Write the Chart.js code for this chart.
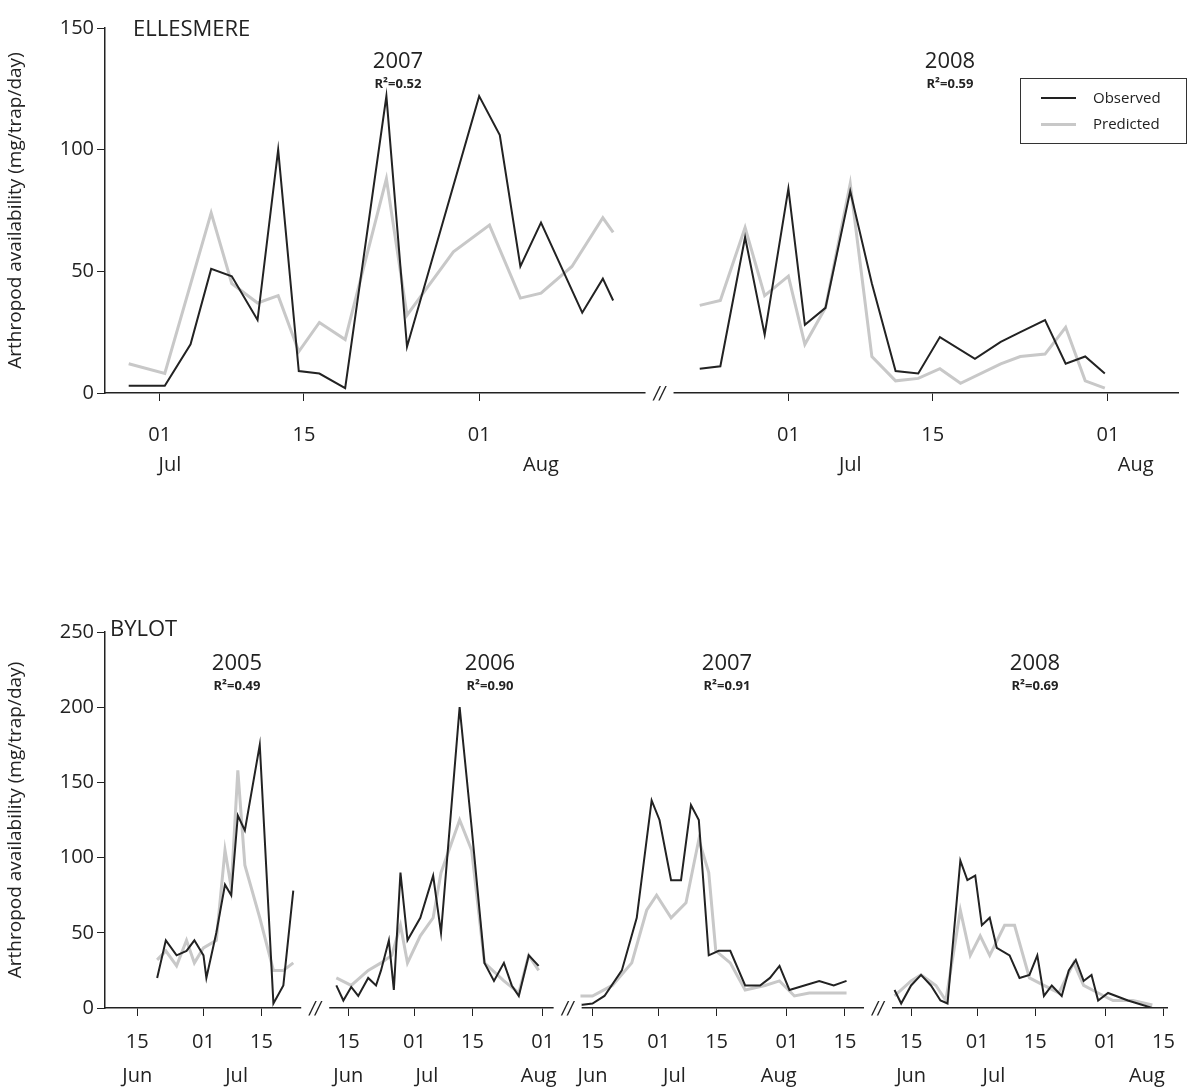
<!DOCTYPE html>
<html><head><meta charset="utf-8">
<script src="https://cdn.jsdelivr.net/npm/chart.js@4.4.1/dist/chart.umd.min.js"></script>
<style>
body{margin:0;background:#fff;font-family:"Open Sans","DejaVu Sans",sans-serif;color:#222;}
#wrap{position:relative;width:1189px;height:1088px;}
canvas{position:absolute;left:0;}
.t{position:absolute;white-space:nowrap;}
.yr{font-size:22px;transform:translateX(-50%);}
.r2{font-size:13px;font-weight:bold;transform:translateX(-50%);}
#legend{position:absolute;left:1020px;top:78px;width:165px;height:64px;border:1px solid #333;font-size:15px;}
</style></head><body>
<div id="wrap">
<canvas id="top" width="1189" height="480" style="top:0"></canvas>
<canvas id="bot" width="1189" height="548" style="top:540px"></canvas>
<div class="t" style="left:133px;top:12px;font-size:22px">ELLESMERE</div>
<div class="t yr" style="left:398px;top:44px">2007</div><div class="t r2" style="left:398px;top:74px">R²=0.52</div>
<div class="t yr" style="left:950px;top:44px">2008</div><div class="t r2" style="left:950px;top:74px">R²=0.59</div>
<div id="legend">
 <div style="position:absolute;left:20px;top:18px;width:35px;border-top:2px solid #222"></div><div class="t" style="left:72px;top:8px">Observed</div>
 <div style="position:absolute;left:20px;top:44px;width:35px;border-top:3px solid #c8c8c8"></div><div class="t" style="left:72px;top:34px">Predicted</div>
</div>
<div class="t" style="left:110px;top:612px;font-size:22px">BYLOT</div>
<div class="t yr" style="left:237px;top:646px">2005</div><div class="t r2" style="left:237px;top:676px">R²=0.49</div>
<div class="t yr" style="left:490px;top:646px">2006</div><div class="t r2" style="left:490px;top:676px">R²=0.90</div>
<div class="t yr" style="left:727px;top:646px">2007</div><div class="t r2" style="left:727px;top:676px">R²=0.91</div>
<div class="t yr" style="left:1035px;top:646px">2008</div><div class="t r2" style="left:1035px;top:676px">R²=0.69</div>
</div>
<script>
// ---- Ellesmere: days since 01 Jul, 2008 shifted by 61
var ellOffsets = [0, 61];
var ell07ObsDays = [-3,0.5,3,5,7,9.5,11.5,13.5,15.5,18,22,24,31,33,35,37,41,43,44];
var ell07Obs     = [3,3,20,51,48,30,100,9,8,2,122,19,122,106,52,70,33,47,38];
var ell07PredDays= [-3,0.5,5,7,9.5,11.5,13.5,15.5,18,22,24,28.5,32,35,37,40,43,44];
var ell07Pred    = [12,8,74,45,37,40,17,29,22,88,32,58,69,39,41,52,72,66];
var ell08ObsDays = [-8.6,-6.6,-4.2,-2.3,0,1.6,3.6,6,8.1,10.4,12.6,14.7,18.1,20.6,22.5,24.9,26.9,28.8,30.7];
var ell08Obs     = [10,11,64,24,84,28,35,83,45,9,8,23,14,21,25,30,12,15,8];
var ell08PredDays= [-8.6,-6.6,-4.2,-2.3,0,1.6,3.6,6,8.1,10.4,12.6,14.7,16.7,20.6,22.5,24.9,26.9,28.8,30.7];
var ell08Pred    = [36,38,68,40,48,20,35,86,15,5,6,10,4,12,15,16,27,5,2];
var ellTickDays  = [0,14,31];
var ellTickNames = ['01','15','01'];
var ellMonths    = [[0,1,'Jul'],[0,37,'Aug'],[1,6,'Jul'],[1,33.7,'Aug']];

// ---- Bylot: days since 01 Jun, per-year shift
var byOffsets = [0, 51, 110, 187];
var by05ObsDays = [18.8,20.9,23.5,25.9,27.8,30,30.7,33.1,35.2,36.7,38.3,40,43.6,46.9,49.3,51.7];
var by05Obs     = [20,45,35,38,45,35,20,50,82,75,128,118,175,3,15,78];
var by05PredDays= [18.8,20.9,23.5,25.9,27.8,30,33.1,35.2,36.7,38.3,40,43.6,46.9,49.3,51.7];
var by05Pred    = [32,38,28,45,30,40,45,105,80,158,95,60,25,25,30];
var by06ObsDays = [11.1,12.8,14.7,16.4,18.8,20.7,21.9,23.8,25,26.6,28.3,31.4,34.5,36.4,40.9,43.8,46.9,49.2,51.6,53.5,55.2,57.6,60];
var by06Obs     = [15,5,14,8,20,15,25,45,12,90,45,60,88,50,200,120,30,18,30,15,8,35,28];
var by06PredDays= [11.1,14.7,18.8,21.9,24.5,26.6,28.3,31.4,34.5,36.4,40.9,43.8,46.9,51.6,55.2,57.6,60];
var by06Pred    = [20,15,25,30,35,55,30,48,60,90,125,105,30,18,10,35,25];
var by07ObsDays = [11.1,14,16.9,21.1,24.7,28.3,30.2,33,35.4,37.8,39.7,42.1,44.5,47.3,50.9,54.5,56.9,59.2,61.6,65.2,68.8,72.3,75.4];
var by07Obs     = [2,3,8,25,60,138,125,85,85,135,125,35,38,38,15,15,20,28,12,15,18,15,18];
var by07PredDays= [11.1,14,18.8,23.5,27.1,29.5,33,36.6,39.7,42.1,43.8,47.3,50.9,55.7,59.2,62.8,66.4,71.1,75.4];
var by07Pred    = [8,8,15,30,65,75,60,70,112,90,38,30,12,15,18,8,10,10,10];
var by08ObsDays = [10,11.6,14,16.4,18.8,21.1,22.8,25.9,27.6,29.5,31.1,33,34.7,37.8,40.2,42.6,44.5,46.1,48,50.4,52.1,53.8,55.7,57.6,59.2,61.6,66.4,72.3];
var by08Obs     = [12,3,15,22,15,5,3,98,85,88,55,60,40,35,20,22,35,8,15,8,25,32,18,22,5,10,5,0];
var by08PredDays= [10,14,16.4,20,22.4,25.9,28.3,30.7,33,36.6,39,42.6,46.1,49.7,53.3,55.7,59.2,62.8,67.6,72.3];
var by08Pred    = [8,18,22,15,5,65,35,48,35,55,55,20,15,10,30,15,10,5,5,2];
var byTickDays = [[14,30,44],[14,30,44,61],[14,30,44,61,75],[14,30,44,61,75]];
var byTickNames = {14:'15',30:'01',44:'15',61:'01',75:'15'};
var byMonths = [[0,14,'Jun'],[0,38,'Jul'],[1,14,'Jun'],[1,33,'Jul'],[1,60,'Aug'],
                [2,14,'Jun'],[2,33.8,'Jul'],[2,59,'Aug'],[3,14,'Jun'],[3,34,'Jul'],[3,71,'Aug']];

function pts(off, days, vals){ return days.map(function(d,i){ return {x:off+d, y:vals[i]}; }); }
function ds(data, obs){
    return {data:data, borderColor: obs ? '#222' : '#c8c8c8', borderWidth: obs ? 2 : 3,
            pointRadius:0, tension:0, fill:false, order: obs ? 0 : 1};
}

function makeChart(id, sets, xmin, xmax, ymax, ticks, months, breaks, xH, padTop, tickPad, monthY){
    var tickMap = {};
    ticks.forEach(function(t){ tickMap[t[0]] = t[1]; });
    var deco = {
        id:'deco',
        afterDraw:function(chart){
            var c = chart.ctx, xs = chart.scales.x, a = chart.chartArea;
            c.save();
            c.fillStyle = '#222';
            c.font = '20px "Open Sans", sans-serif';
            c.textAlign = 'center';
            months.forEach(function(m){ c.fillText(m[2], xs.getPixelForValue(m[0]), a.bottom + monthY); });
            breaks.forEach(function(b){
                var px = xs.getPixelForValue(b);
                c.fillStyle = '#fff';
                c.fillRect(px - 14, a.bottom - 4, 28, 8);
                c.fillStyle = '#222';
                c.font = 'italic 17px "DejaVu Sans", sans-serif';
                c.fillText('//', px, a.bottom + 6);
            });
            c.restore();
        }
    };
    return new Chart(document.getElementById(id), {
        type:'line',
        data:{datasets:sets},
        options:{
            responsive:false, animation:false,
            layout:{padding:{top:padTop, right:11, left:0, bottom:0}},
            plugins:{legend:{display:false}, tooltip:{enabled:false}},
            scales:{
                x:{type:'linear', min:xmin, max:xmax,
                   afterBuildTicks:function(s){ s.ticks = ticks.map(function(t){ return {value:t[0]}; }); },
                   afterFit:function(s){ s.height = xH; },
                   ticks:{autoSkip:false, maxRotation:0, padding:tickPad, color:'#222', font:{size:20, family:'"Open Sans", sans-serif'},
                          callback:function(v){ return tickMap[v]; }},
                   grid:{drawOnChartArea:false, tickLength:8, color:'#222'},
                   border:{color:'#222', width:1.5}},
                y:{min:0, max:ymax,
                   afterFit:function(s){ s.width = 105; },
                   ticks:{stepSize:50, color:'#222', font:{size:20, family:'"Open Sans", sans-serif'}},
                   title:{display:true, text:'Arthropod availability (mg/trap/day)', color:'#222',
                          font:{size:19, family:'"Open Sans", sans-serif'}},
                   grid:{drawOnChartArea:false, tickLength:8, color:'#222'},
                   border:{color:'#222', width:1.5}}
            }
        },
        plugins:[deco]
    });
}

function initCharts(){
    var topSets = [
        ds(pts(ellOffsets[0], ell07PredDays, ell07Pred), false),
        ds(pts(ellOffsets[0], ell07ObsDays, ell07Obs), true),
        ds(pts(ellOffsets[1], ell08PredDays, ell08Pred), false),
        ds(pts(ellOffsets[1], ell08ObsDays, ell08Obs), true)
    ];
    var topTicks = [];
    ellOffsets.forEach(function(o){ ellTickDays.forEach(function(d,i){ topTicks.push([o+d, ellTickNames[i]]); }); });
    var topMonths = ellMonths.map(function(m){ return [ellOffsets[m[0]] + m[1], 0, m[2]]; });
    makeChart('top', topSets, -5.3, 98.8, 150, topTicks, topMonths, [48.5], 87, 28, 22, 78);

    var bySeries = [[by05ObsDays,by05Obs,by05PredDays,by05Pred],[by06ObsDays,by06Obs,by06PredDays,by06Pred],
                    [by07ObsDays,by07Obs,by07PredDays,by07Pred],[by08ObsDays,by08Obs,by08PredDays,by08Pred]];
    var botSets = [];
    bySeries.forEach(function(s,i){
        botSets.push(ds(pts(byOffsets[i], s[2], s[3]), false));
        botSets.push(ds(pts(byOffsets[i], s[0], s[1]), true));
    });
    var botTicks = [];
    byTickDays.forEach(function(list,i){ list.forEach(function(d){ botTicks.push([byOffsets[i]+d, byTickNames[d]]); }); });
    var botMonths = byMonths.map(function(m){ return [byOffsets[m[0]] + m[1], 0, m[2]]; });
    makeChart('bot', botSets, 6.2, 263, 250, botTicks, botMonths, [57, 118, 193], 80, 92, 14, 74);
}
document.addEventListener('DOMContentLoaded', initCharts);
</script>
</body></html>
